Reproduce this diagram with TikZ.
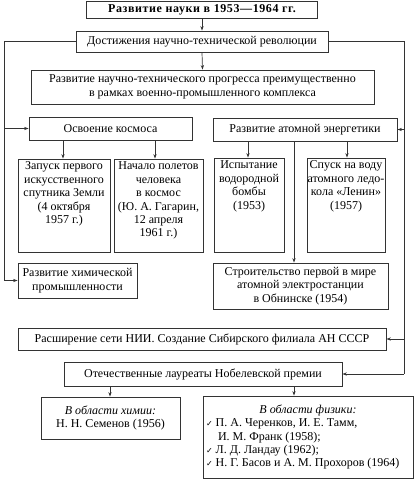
\documentclass[tikz,border=0pt]{standalone}
\usepackage{fontspec}
\setmainfont{Liberation Serif}
\newfontfamily\symfont{DejaVu Sans}
\usetikzlibrary{arrows.meta}
\tikzset{
  x=1pt, y=-1pt,
  box/.style={draw=black!80, line width=0.8pt, inner sep=0pt, align=center,
    font=\fontsize{12}{13.4}\selectfont},
  conn/.style={draw=black!80, line width=0.7pt},
  arr/.style={conn, -{Stealth[length=4.5pt,width=3.2pt]}},
}
\newcommand{\tbox}[3]{\parbox[c][#2][t]{#1}{\centering\vspace{3pt}#3}}
\newcommand{\ck}{{\symfont\footnotesize ✓}}
\begin{document}
\begin{tikzpicture}
\useasboundingbox (0,0) rectangle (415,479);
\node[box, minimum width=231pt, minimum height=17pt, font=\fontsize{12}{13}\selectfont\bfseries\addfontfeatures{LetterSpace=5}] (title) at (202,9.5) {Развитие науки в 1953—1964 гг.};
\node[box, minimum width=252pt, minimum height=21pt] (dost) at (202,41.5) {Достижения научно-технической революции};
\node[box, minimum width=343pt, minimum height=34pt] (ntp) at (202.5,87) {Развитие научно-технического прогресса преимущественно\\в рамках военно-промышленного комплекса};
\node[box, minimum width=163pt, minimum height=23pt] (kosm) at (110.5,128.5) {Освоение космоса};
\node[box, minimum width=184pt, minimum height=23pt] (atom) at (305,129.5) {Развитие атомной энергетики};
\node[box] (zap) at (64,205.5) {\tbox{92pt}{93pt}{Запуск первого\\искусственного\\спутника Земли\\(4 октября\\1957 г.)}};
\node[box] (nach) at (158.5,205.5) {\tbox{89pt}{93pt}{Начало полетов\\человека\\в космос\\(Ю. А. Гагарин,\\12 апреля\\1961 г.)}};
\node[box] (isp) at (249,205) {\tbox{70pt}{94pt}{Испытание\\водородной\\бомбы\\(1953)}};
\node[box] (spusk) at (346,205) {\tbox{78pt}{94pt}{Спуск на воду\\атомного ледо-\\кола «Ленин»\\(1957)}};
\node[box, minimum width=119pt, minimum height=35pt] (chem) at (77.5,280.5) {Развитие химической\\промышленности};
\node[box, minimum width=175pt, minimum height=46pt] (stroit) at (300.5,286) {Строительство первой в мире\\атомной электростанции\\в Обнинске (1954)};
\node[box, minimum width=368pt, minimum height=22pt] (rassh) at (202,339) {Расширение сети НИИ. Создание Сибирского филиала АН СССР};
\node[box, minimum width=278pt, minimum height=24pt] (otech) at (203,374) {Отечественные лауреаты Нобелевской премии};
\node[box, minimum width=139pt, minimum height=42pt] (chim) at (110.5,418) {\textit{В области химии:}\\Н. Н. Семенов (1956)};
\node[box, minimum width=210pt, minimum height=82pt] (fiz) at (308,437) {\parbox{204pt}{\centering\textit{В области физики:}\\[0pt]
\raggedright
\ck\ П. А. Черенков, И. Е. Тамм,\\
\hspace*{1.0em}И. М. Франк (1958);\\
\ck\ Л. Д. Ландау (1962);\\
\ck\ Н. Г. Басов и А. М. Прохоров (1964)}};
% vertical arrows
\draw[arr] (title.south) -- (dost.north);
\draw[arr] (dost.south) -- (ntp.north);
\draw[arr] (kosm.south -| zap.north) ++(-1,0) coordinate (k1) -- (k1 |- zap.north);
\draw[arr] (kosm.south -| nach.north) ++(-3.5,0) coordinate (k2) -- (k2 |- nach.north);
\draw[arr] (atom.south -| isp.north) ++(-1,0) coordinate (a1) -- (a1 |- isp.north);
\draw[arr] (atom.south -| spusk.north) ++(1,0) coordinate (a2) -- (a2 |- spusk.north);
\draw[arr] (atom.south -| stroit.north) ++(-6.5,0) coordinate (a3) -- (a3 |- stroit.north);
\draw[arr] (otech.south -| chim.north) ++(-0.5,0) coordinate (o1) -- (o1 |- chim.north);
\draw[arr] (otech.south -| fiz.north) ++(-14,0) coordinate (o2) -- (o2 |- fiz.north);
% left bus
\coordinate (L1) at (4,41.5);
\coordinate (L2) at (4,280.5);
\draw[conn] (dost.west) -- (L1) -- (L2);
\draw[arr] (L2) -- (chem.west);
\draw[arr] (kosm.west -| L1) -- (kosm.west);
% right bus
\coordinate (R1) at (404,41.5);
\coordinate (R2) at (404,374);
\draw[conn] (dost.east) -- (R1) -- (R2);
\draw[arr] (R2) -- (otech.east);
\draw[arr] (atom.east -| R1) -- (atom.east);
\draw[arr] (rassh.east -| R1) -- (rassh.east);
\end{tikzpicture}
\end{document}
